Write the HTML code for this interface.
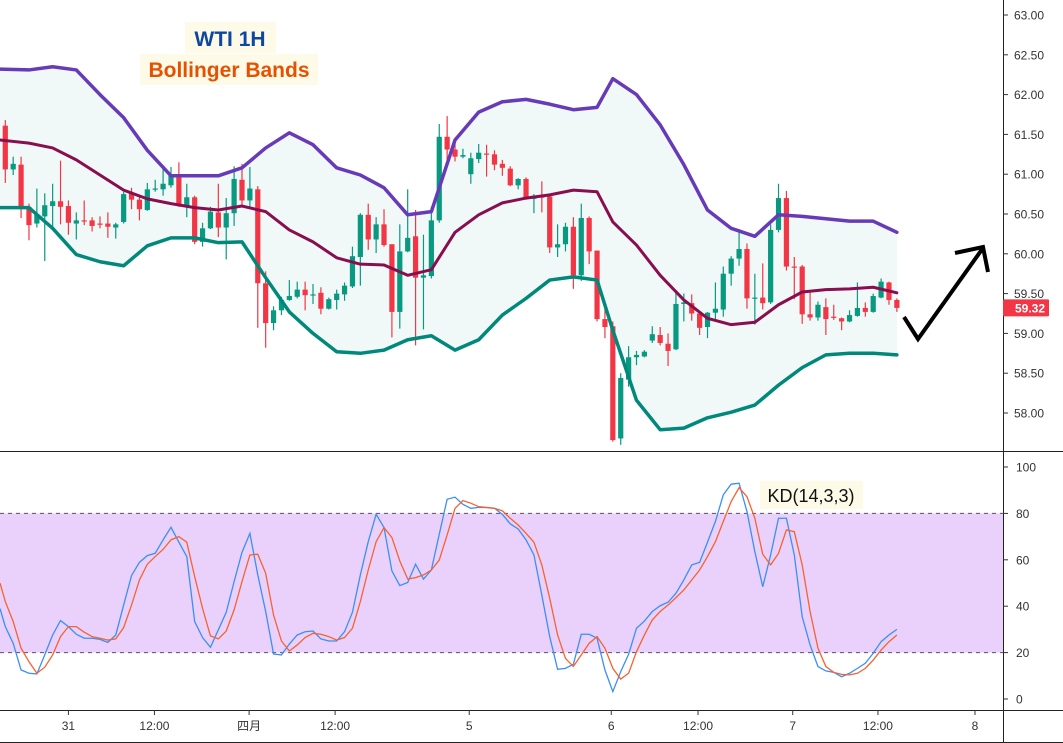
<!DOCTYPE html>
<html><head><meta charset="utf-8">
<style>
html,body{margin:0;padding:0;background:#fff;}
svg{display:block;font-family:"Liberation Sans","Noto Sans CJK SC",sans-serif;}
</style></head>
<body>
<svg id="chart" width="1063" height="743" viewBox="0 0 1063 743" xmlns="http://www.w3.org/2000/svg">
  <rect x="0" y="0" width="1063" height="743" fill="#ffffff"/>
  <g id="price-panel"></g>
  <g id="kd-panel"></g>
  <g id="axes"></g>
  <g>
    <rect x="185" y="22" width="91" height="31" fill="#fdfbe8"/>
    <text x="230" y="46" text-anchor="middle" font-size="21" font-weight="bold" fill="#0d47a1">WTI 1H</text>
    <rect x="140" y="54" width="178" height="31" fill="#fdfbe8"/>
    <text x="229" y="77" text-anchor="middle" font-size="21" font-weight="bold" fill="#e65100">Bollinger Bands</text>
  </g>
  <g>
    <rect x="760" y="481" width="103" height="28" fill="#fdfbe8"/>
    <text x="811" y="502" text-anchor="middle" font-size="18" fill="#111">KD(14,3,3)</text>
  </g>
  <g stroke="#000" stroke-width="4" fill="none" stroke-linecap="butt" stroke-linejoin="miter">
    <polyline points="904,317 918,339 983,248"/>
    <polyline points="955,253 983,247 988,272"/>
  </g>
</svg>
<script>
const opens=[61.61,61.06,61.12,60.59,60.38,60.47,60.60,60.66,60.60,60.38,60.42,60.42,60.38,60.38,60.33,60.40,60.76,60.68,60.55,60.81,60.81,60.86,60.98,60.60,60.71,60.15,60.32,60.52,60.33,60.51,60.93,60.67,60.81,59.63,59.13,59.29,59.42,59.46,59.55,59.48,59.51,59.31,59.42,59.49,59.59,59.96,60.49,60.18,60.37,60.12,59.27,60.03,60.22,59.70,59.72,60.42,61.47,61.31,61.22,61.00,61.19,61.26,61.25,61.13,61.07,60.86,60.94,60.69,60.72,60.72,60.08,60.12,60.34,59.73,60.45,60.04,59.18,59.09,57.68,58.42,58.70,58.71,58.91,58.98,58.87,58.80,59.37,59.38,59.25,59.08,59.26,59.30,59.75,59.94,60.06,59.44,59.45,59.39,60.30,60.70,59.84,59.84,59.24,59.20,59.33,59.21,59.19,59.15,59.22,59.32,59.27,59.45,59.64,59.42];
const closes=[61.06,61.13,60.58,60.36,60.49,60.61,60.66,60.59,60.39,60.42,60.41,60.35,60.37,60.34,60.37,60.75,60.68,60.56,60.81,60.82,60.88,60.98,60.60,60.71,60.15,60.32,60.53,60.33,60.51,60.94,60.67,60.82,59.63,59.13,59.29,59.42,59.47,59.55,59.48,59.49,59.31,59.43,59.50,59.60,59.97,60.49,60.18,60.37,60.11,59.27,60.03,60.20,59.70,59.73,60.42,61.47,61.31,61.22,61.24,61.20,61.27,61.25,61.12,61.08,60.86,60.94,60.69,60.73,60.71,60.08,60.12,60.34,59.73,60.45,60.03,59.18,59.08,57.66,58.44,58.70,58.73,58.77,58.99,58.88,58.78,59.37,59.39,59.25,59.07,59.26,59.31,59.75,59.94,60.06,59.44,59.45,59.38,60.30,60.70,59.84,59.83,59.24,59.20,59.36,59.18,59.20,59.15,59.23,59.32,59.27,59.47,59.65,59.42,59.32];
const highs=[61.68,61.22,61.22,60.63,60.82,60.76,60.88,61.17,60.67,60.52,60.67,60.46,60.47,60.52,60.39,60.78,60.83,60.72,60.89,60.93,61.09,61.09,61.15,60.88,60.73,60.39,60.59,60.88,60.70,61.10,61.13,61.09,60.85,59.78,59.34,59.46,59.67,59.65,59.65,59.62,59.58,59.45,59.55,59.64,60.09,60.51,60.63,60.46,60.56,60.12,60.37,60.81,60.55,60.24,60.59,61.63,61.73,61.41,61.32,61.27,61.38,61.37,61.30,61.18,61.10,60.95,60.96,60.75,60.91,60.73,60.37,60.39,60.46,60.63,60.47,60.04,59.39,59.15,58.50,58.84,58.78,58.79,59.09,59.08,59.00,59.54,59.50,59.49,59.26,59.27,59.64,59.84,59.97,60.31,60.13,59.75,59.88,60.37,60.88,60.79,59.96,59.86,59.54,59.40,59.44,59.36,59.20,59.29,59.64,59.39,59.50,59.69,59.65,59.44];
const lows=[60.89,60.99,60.45,60.17,60.33,59.91,60.34,60.37,60.24,60.18,60.36,60.28,60.32,60.20,60.19,60.38,60.56,60.42,60.54,60.78,60.73,60.83,60.59,60.46,60.12,60.09,60.31,60.21,59.93,60.35,60.61,60.58,59.07,58.82,59.04,59.23,59.41,59.44,59.29,59.37,59.24,59.30,59.30,59.41,59.57,59.60,60.05,60.01,60.09,58.95,59.06,60.02,58.85,59.05,59.69,60.39,61.16,61.16,61.20,60.88,61.14,60.97,61.05,60.98,60.85,60.81,60.68,60.51,60.52,60.01,59.96,60.03,59.56,59.66,59.87,59.15,58.94,57.64,57.60,58.33,58.60,58.70,58.88,58.85,58.59,58.79,59.15,59.16,58.98,58.94,59.15,59.21,59.60,59.85,59.31,59.11,59.30,59.37,60.27,59.79,59.43,59.12,59.16,59.16,58.98,59.17,59.04,59.14,59.21,59.21,59.26,59.44,59.36,59.27];
const bandIdx=[-0.7,3,6,9,12,15,18,21,24,27,30,33,36,39,42,45,48,51,54,57,60,63,66,69,72,75,77,80,83,86,89,92,95,98,101,104,107,110,113];
const bandUpper=[62.32,62.31,62.35,62.31,62.00,61.71,61.30,60.98,60.98,60.98,61.08,61.33,61.52,61.37,61.08,60.99,60.83,60.49,60.53,61.43,61.78,61.91,61.94,61.88,61.81,61.84,62.20,62.00,61.62,61.12,60.55,60.32,60.22,60.49,60.47,60.44,60.41,60.41,60.27];
const bandMid=[61.43,61.39,61.33,61.18,60.99,60.80,60.69,60.63,60.58,60.55,60.60,60.53,60.30,60.15,59.95,59.87,59.86,59.73,59.80,60.27,60.49,60.64,60.70,60.74,60.80,60.78,60.40,60.11,59.73,59.42,59.19,59.11,59.14,59.36,59.52,59.55,59.56,59.58,59.51];
const bandLower=[60.58,60.58,60.32,59.99,59.90,59.85,60.10,60.20,60.20,60.14,60.15,59.70,59.27,59.00,58.77,58.75,58.79,58.92,58.97,58.79,58.92,59.23,59.44,59.67,59.71,59.67,59.04,58.16,57.79,57.81,57.94,58.01,58.10,58.35,58.57,58.73,58.75,58.75,58.73];
const kValues=[31.2,24.0,12.5,11.1,10.8,19.0,27.6,33.8,31.2,27.9,26.2,26.2,25.7,24.4,27.6,40.5,53.2,58.9,61.8,62.8,68.6,74.0,67.6,61.4,33.4,26.5,22.3,29.8,37.4,50.6,63.2,71.4,53.5,37.7,19.4,19.0,23.7,27.6,29.0,29.3,25.9,25.0,25.0,29.0,37.4,53.5,67.8,79.6,73.9,55.2,48.9,50.2,58.1,51.7,55.6,71.0,86.1,87.0,83.9,82.2,82.6,82.5,82.2,79.6,75.5,73.3,68.6,62.1,44.8,26.9,12.8,13.2,15.0,27.9,27.9,26.2,12.5,3.2,11.8,19.3,30.5,33.6,37.7,40.2,41.7,45.6,51.3,57.8,58.9,67.6,76.5,88.0,92.6,93.0,80.8,63.5,48.4,62.1,77.9,77.9,62.1,35.5,23.3,14.0,12.1,11.5,9.6,11.1,13.2,15.4,19.7,24.7,27.6,30.0];
const dValues=[42.0,33.4,21.9,16.1,11.1,13.7,19.0,26.9,31.2,31.2,28.8,26.9,26.2,25.4,25.9,30.8,40.5,51.3,58.1,61.4,64.5,68.6,70.0,67.6,52.8,39.1,27.2,25.9,29.3,38.4,50.6,62.1,62.4,54.2,36.2,25.0,20.7,23.3,26.5,28.3,27.9,26.9,25.4,26.5,30.5,42.0,55.6,67.8,73.9,69.6,59.5,51.7,52.3,53.5,55.6,59.9,70.7,82.2,85.5,84.4,82.9,82.6,82.2,81.1,77.9,75.0,71.4,67.6,57.8,43.4,27.6,17.5,14.0,19.0,24.0,26.9,21.9,13.2,8.6,11.1,20.4,27.6,34.1,37.7,40.5,43.7,47.0,51.3,55.6,61.4,67.8,76.5,85.1,91.1,87.2,77.9,62.4,57.8,62.8,72.9,72.1,57.8,37.7,21.9,14.0,11.5,10.6,10.4,11.1,13.2,16.8,21.1,24.7,27.6];
const kLead=39;
const dLead=50;
const priceTicks=[63.00,62.50,62.00,61.50,61.00,60.50,60.00,59.50,59.00,58.50,58.00];
const kdTicks=[100,80,60,40,20,0];
const timeLabels=["31","12:00","四月","12:00","5","6","12:00","7","12:00","8"];
const timeLabelIdx=[8,18.9,30.9,41.8,58.8,76.8,87.8,99.8,110.6,122.9];
const lastPrice=59.32;

const NS="http://www.w3.org/2000/svg";
function xAt(i){return 5.3+7.89*i;}
function yPrice(p){return 15+(63-p)*79.6;}
function yKd(v){return 699-2.32*v;}
function mk(tag,attrs,parent){const e=document.createElementNS(NS,tag);for(const k in attrs)e.setAttribute(k,attrs[k]);parent.appendChild(e);return e;}

const pp=document.getElementById('price-panel');
const kp=document.getElementById('kd-panel');
const ax=document.getElementById('axes');

let fillPts=bandIdx.map((b,j)=>xAt(b)+','+yPrice(bandUpper[j]));
for(let j=bandIdx.length-1;j>=0;j--)fillPts.push(xAt(bandIdx[j])+','+yPrice(bandLower[j]));
const fillEl=mk('polygon',{points:fillPts.join(' '),fill:'#f1f8f8'},pp);



const cg=mk('g',{},pp);


for(let i=0;i<opens.length;i++){
  const up=closes[i]>=opens[i];
  const col=up?'#089981':'#f23645';
  const x=xAt(i);
  const w=mk('line',{x1:x,x2:x,y1:yPrice(Math.max(highs[i],opens[i],closes[i])),y2:yPrice(Math.min(lows[i],opens[i],closes[i])),stroke:col,'stroke-width':1.2},cg);
  
  
  const t=yPrice(Math.max(opens[i],closes[i])),b=yPrice(Math.min(opens[i],closes[i]));
  const r=mk('rect',{x:x-2.6,y:t,width:5.2,height:Math.max(1.2,b-t),fill:col},cg);
  
  
}

function bandLine(vals,col,w,name){
  const el=mk('polyline',{points:bandIdx.map((b,j)=>xAt(b)+','+yPrice(vals[j])).join(' '),fill:'none',stroke:col,'stroke-width':w,'stroke-linejoin':'round','stroke-linecap':'round'},pp);
  
  
}
bandLine(bandUpper,'#673ab7',3.5,'upper-band');
bandLine(bandMid,'#880e4f',3,'middle-band');
bandLine(bandLower,'#00897b',3.5,'lower-band');

const zone=mk('rect',{x:0,y:yKd(80),width:1003,height:yKd(20)-yKd(80),fill:'#e9d1fb'},kp);


[80,20].forEach(v=>{
  const l=mk('line',{x1:0,x2:1003,y1:yKd(v),y2:yKd(v),stroke:'#5e4f6e','stroke-width':1,'stroke-dasharray':'4,4'},kp);
  
  
});
const kl=mk('polyline',{points:'0,'+yKd(kLead)+' '+kValues.map((v,i)=>xAt(i)+','+yKd(v)).join(' '),fill:'none',stroke:'#3b8ff4','stroke-width':1.3},kp);


const dl=mk('polyline',{points:'0,'+yKd(dLead)+' '+dValues.map((v,i)=>xAt(i)+','+yKd(v)).join(' '),fill:'none',stroke:'#f7622f','stroke-width':1.3},kp);



const a1=mk('line',{x1:1003.5,x2:1003.5,y1:0,y2:743,stroke:'#222','stroke-width':1},ax);


const a2=mk('line',{x1:0,x2:1063,y1:451.5,y2:451.5,stroke:'#222','stroke-width':1},ax);


const a3=mk('line',{x1:0,x2:1063,y1:710.5,y2:710.5,stroke:'#222','stroke-width':1},ax);


const a4=mk('line',{x1:0,x2:1063,y1:742.5,y2:742.5,stroke:'#222','stroke-width':1},ax);



priceTicks.forEach(p=>{
  const y=yPrice(p);
  const t=mk('line',{x1:1003,x2:1008,y1:y,y2:y,stroke:'#333'},ax);
  
  
  const tx=mk('text',{x:1014,y:y+4.5,'font-size':12,fill:'#333'},ax);
  
  
  tx.textContent=p.toFixed(2);
});
kdTicks.forEach(v=>{
  const y=yKd(v);
  const t=mk('line',{x1:1003,x2:1008,y1:y,y2:y,stroke:'#333'},ax);
  
  
  const tx=mk('text',{x:1016,y:y+4.5,'font-size':12,fill:'#333'},ax);
  
  
  tx.textContent=String(v);
});
timeLabels.forEach((s,j)=>{
  const x=xAt(timeLabelIdx[j]);
  const t=mk('line',{x1:x,x2:x,y1:710,y2:715,stroke:'#333'},ax);
  
  
  const tx=mk('text',{x:x,y:730,'font-size':12,fill:'#333','text-anchor':'middle'},ax);
  
  
  tx.textContent=s;
});
const ly=yPrice(lastPrice);
const lb=mk('rect',{x:1003,y:ly-8.5,width:46,height:17,fill:'#f23645',rx:1},ax);


const lt=mk('text',{x:1015,y:ly+4.5,'font-size':12,'font-weight':'bold',fill:'#fff'},ax);


lt.textContent=lastPrice.toFixed(2);
</script>
</body></html>
